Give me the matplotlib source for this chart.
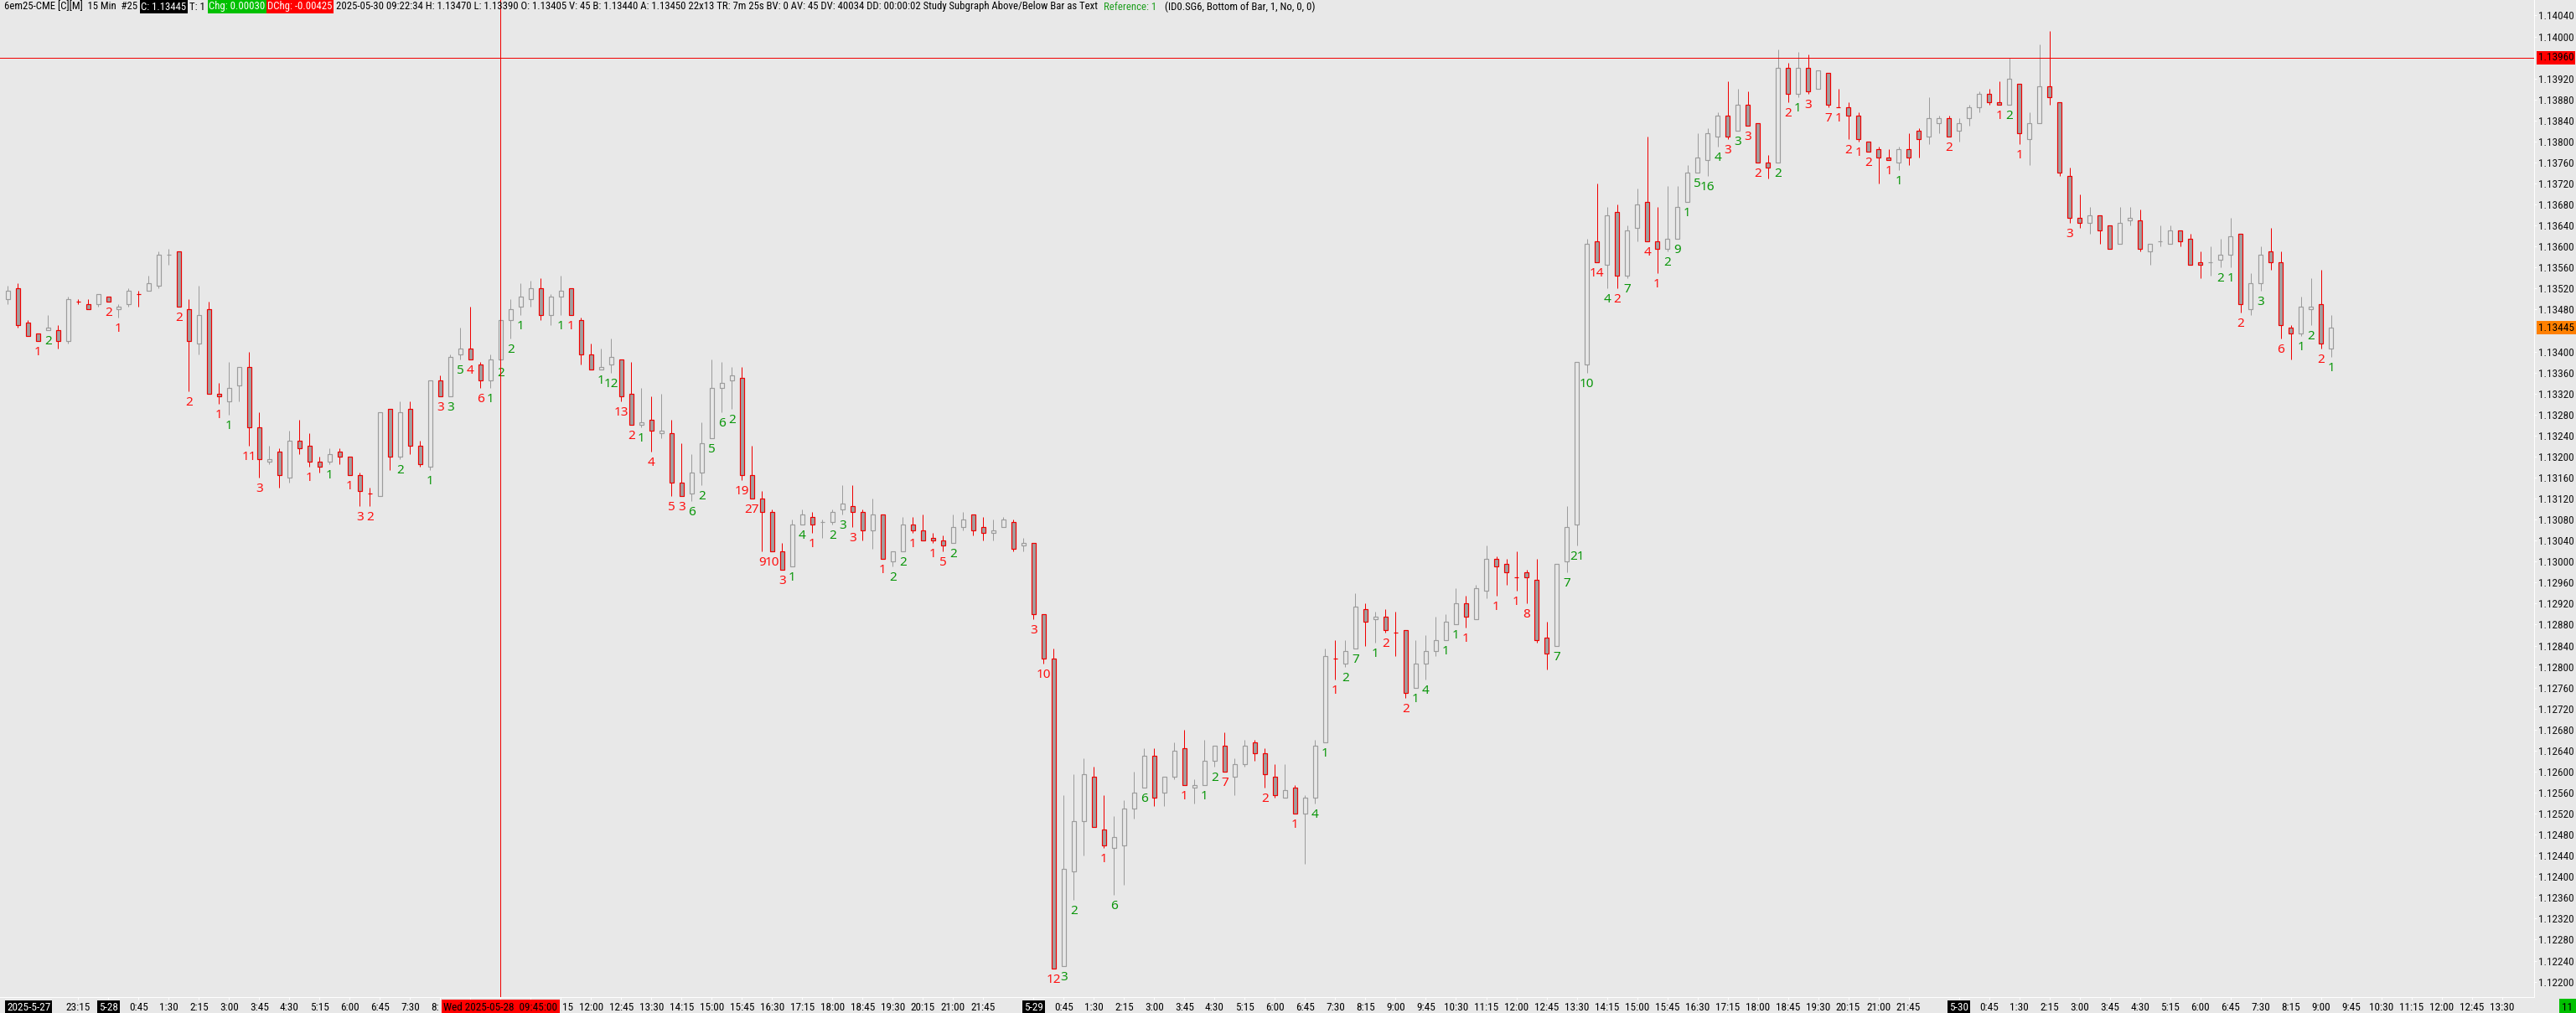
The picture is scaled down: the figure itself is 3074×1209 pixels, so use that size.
import numpy as np
import pandas as pd
import matplotlib
matplotlib.use("Agg")
import matplotlib.pyplot as plt
from matplotlib import font_manager as fm

# 6E 15 min bars, 2025-05-27 20:30 .. 2025-05-30 09:15
OPEN = [
    1.13500, 1.13520, 1.13455, 1.13435, 1.13440, 1.13440, 1.13420, 1.13495, 1.13490, 1.13490,
    1.13505, 1.13480, 1.13490, 1.13510, 1.13515, 1.13525, 1.13585, 1.13590, 1.13480, 1.13415,
    1.13480, 1.13320, 1.13305, 1.13335, 1.13370, 1.13255, 1.13190, 1.13210, 1.13160, 1.13230,
    1.13220, 1.13190, 1.13190, 1.13210, 1.13200, 1.13165, 1.13130, 1.13125, 1.13290, 1.13200,
    1.13290, 1.13220, 1.13180, 1.13345, 1.13315, 1.13395, 1.13405, 1.13375, 1.13345, 1.13385,
    1.13460, 1.13485, 1.13500, 1.13520, 1.13470, 1.13505, 1.13520, 1.13460, 1.13395, 1.13365,
    1.13375, 1.13385, 1.13320, 1.13260, 1.13270, 1.13245, 1.13245, 1.13150, 1.13130, 1.13170,
    1.13235, 1.13330, 1.13345, 1.13350, 1.13165, 1.13120, 1.13095, 1.13020, 1.12990, 1.13070,
    1.13085, 1.13075, 1.13075, 1.13100, 1.13105, 1.13095, 1.13060, 1.13090, 1.13000, 1.13020,
    1.13070, 1.13060, 1.13045, 1.13040, 1.13035, 1.13065, 1.13090, 1.13065, 1.13055, 1.13065,
    1.13075, 1.13030, 1.13035, 1.12900, 1.12815, 1.12230, 1.12410, 1.12505, 1.12590, 1.12490,
    1.12455, 1.12460, 1.12530, 1.12570, 1.12630, 1.12560, 1.12590, 1.12645, 1.12570, 1.12575,
    1.12620, 1.12650, 1.12590, 1.12615, 1.12655, 1.12635, 1.12590, 1.12550, 1.12570, 1.12520,
    1.12550, 1.12655, 1.12815, 1.12805, 1.12835, 1.12910, 1.12890, 1.12895, 1.12865, 1.12870,
    1.12760, 1.12805, 1.12830, 1.12850, 1.12880, 1.12920, 1.12890, 1.12945, 1.13005, 1.12995,
    1.12970, 1.12980, 1.12965, 1.12855, 1.12840, 1.13000, 1.13070, 1.13375, 1.13610, 1.13565,
    1.13665, 1.13545, 1.13635, 1.13685, 1.13610, 1.13595, 1.13615, 1.13685, 1.13740, 1.13765,
    1.13810, 1.13850, 1.13820, 1.13870, 1.13835, 1.13760, 1.13760, 1.13940, 1.13890, 1.13940,
    1.13900, 1.13930, 1.13865, 1.13865, 1.13850, 1.13800, 1.13785, 1.13770, 1.13760, 1.13785,
    1.13820, 1.13810, 1.13835, 1.13845, 1.13820, 1.13845, 1.13865, 1.13890, 1.13875, 1.13870,
    1.13910, 1.13805, 1.13835, 1.13905, 1.13875, 1.13735, 1.13655, 1.13645, 1.13660, 1.13640,
    1.13605, 1.13650, 1.13650, 1.13590, 1.13610, 1.13605, 1.13630, 1.13615, 1.13570, 1.13570,
    1.13575, 1.13585, 1.13625, 1.13480, 1.13530, 1.13590, 1.13570, 1.13445, 1.13435, 1.13480,
    1.13490, 1.13405,
]
HIGH = [
    1.13525, 1.13530, 1.13460, 1.13435, 1.13470, 1.13450, 1.13505, 1.13500, 1.13500, 1.13510,
    1.13505, 1.13490, 1.13520, 1.13515, 1.13545, 1.13590, 1.13595, 1.13590, 1.13500, 1.13525,
    1.13495, 1.13340, 1.13380, 1.13370, 1.13400, 1.13285, 1.13220, 1.13215, 1.13250, 1.13270,
    1.13245, 1.13200, 1.13215, 1.13215, 1.13200, 1.13170, 1.13140, 1.13285, 1.13290, 1.13305,
    1.13305, 1.13230, 1.13345, 1.13355, 1.13395, 1.13445, 1.13485, 1.13380, 1.13395, 1.13460,
    1.13500, 1.13530, 1.13535, 1.13540, 1.13510, 1.13545, 1.13520, 1.13465, 1.13415, 1.13405,
    1.13425, 1.13385, 1.13380, 1.13330, 1.13315, 1.13320, 1.13270, 1.13225, 1.13205, 1.13265,
    1.13385, 1.13380, 1.13370, 1.13370, 1.13220, 1.13135, 1.13100, 1.13035, 1.13080, 1.13100,
    1.13095, 1.13080, 1.13100, 1.13145, 1.13145, 1.13100, 1.13120, 1.13090, 1.13020, 1.13085,
    1.13085, 1.13090, 1.13055, 1.13050, 1.13090, 1.13095, 1.13090, 1.13085, 1.13080, 1.13085,
    1.13080, 1.13045, 1.13035, 1.12900, 1.12835, 1.12555, 1.12595, 1.12625, 1.12610, 1.12555,
    1.12515, 1.12545, 1.12600, 1.12645, 1.12645, 1.12590, 1.12655, 1.12680, 1.12585, 1.12660,
    1.12650, 1.12675, 1.12625, 1.12660, 1.12660, 1.12645, 1.12615, 1.12615, 1.12575, 1.12555,
    1.12660, 1.12835, 1.12850, 1.12850, 1.12940, 1.12920, 1.12905, 1.12910, 1.12905, 1.12870,
    1.12850, 1.12860, 1.12895, 1.12900, 1.12950, 1.12935, 1.12955, 1.13030, 1.13010, 1.13005,
    1.13020, 1.12985, 1.13005, 1.12885, 1.12995, 1.13105, 1.13380, 1.13615, 1.13720, 1.13675,
    1.13680, 1.13640, 1.13710, 1.13810, 1.13675, 1.13715, 1.13715, 1.13755, 1.13815, 1.13825,
    1.13855, 1.13915, 1.13900, 1.13895, 1.13835, 1.13775, 1.13975, 1.13950, 1.13970, 1.13965,
    1.13935, 1.13930, 1.13900, 1.13875, 1.13855, 1.13800, 1.13790, 1.13785, 1.13790, 1.13815,
    1.13825, 1.13885, 1.13850, 1.13850, 1.13845, 1.13870, 1.13895, 1.13900, 1.13915, 1.13960,
    1.13910, 1.13855, 1.13985, 1.14010, 1.13875, 1.13750, 1.13700, 1.13675, 1.13660, 1.13640,
    1.13675, 1.13675, 1.13670, 1.13605, 1.13640, 1.13640, 1.13630, 1.13625, 1.13590, 1.13600,
    1.13615, 1.13655, 1.13625, 1.13550, 1.13600, 1.13635, 1.13590, 1.13450, 1.13505, 1.13540,
    1.13555, 1.13470,
]
LOW = [
    1.13490, 1.13445, 1.13430, 1.13420, 1.13440, 1.13405, 1.13415, 1.13490, 1.13480, 1.13485,
    1.13495, 1.13465, 1.13485, 1.13485, 1.13515, 1.13520, 1.13565, 1.13485, 1.13325, 1.13395,
    1.13320, 1.13300, 1.13280, 1.13305, 1.13220, 1.13160, 1.13185, 1.13140, 1.13150, 1.13205,
    1.13180, 1.13170, 1.13185, 1.13185, 1.13165, 1.13105, 1.13105, 1.13125, 1.13175, 1.13195,
    1.13205, 1.13180, 1.13175, 1.13315, 1.13315, 1.13385, 1.13385, 1.13330, 1.13330, 1.13380,
    1.13425, 1.13470, 1.13485, 1.13460, 1.13450, 1.13470, 1.13470, 1.13375, 1.13365, 1.13365,
    1.13360, 1.13305, 1.13260, 1.13255, 1.13210, 1.13235, 1.13125, 1.13125, 1.13115, 1.13145,
    1.13235, 1.13285, 1.13290, 1.13155, 1.13120, 1.13020, 1.13020, 1.12985, 1.12990, 1.13070,
    1.13055, 1.13045, 1.13070, 1.13090, 1.13065, 1.13040, 1.13025, 1.13005, 1.12990, 1.13020,
    1.13055, 1.13040, 1.13035, 1.13020, 1.13035, 1.13060, 1.13050, 1.13040, 1.13040, 1.13065,
    1.13020, 1.13020, 1.12890, 1.12805, 1.12225, 1.12230, 1.12355, 1.12440, 1.12495, 1.12455,
    1.12365, 1.12385, 1.12510, 1.12570, 1.12535, 1.12535, 1.12585, 1.12575, 1.12540, 1.12575,
    1.12610, 1.12600, 1.12555, 1.12610, 1.12620, 1.12570, 1.12550, 1.12550, 1.12520, 1.12425,
    1.12540, 1.12655, 1.12775, 1.12800, 1.12835, 1.12840, 1.12845, 1.12865, 1.12820, 1.12740,
    1.12760, 1.12775, 1.12820, 1.12850, 1.12880, 1.12875, 1.12890, 1.12930, 1.12935, 1.12955,
    1.12945, 1.12920, 1.12845, 1.12795, 1.12840, 1.12980, 1.13030, 1.13360, 1.13570, 1.13520,
    1.13520, 1.13540, 1.13610, 1.13610, 1.13550, 1.13590, 1.13615, 1.13685, 1.13740, 1.13735,
    1.13790, 1.13805, 1.13820, 1.13830, 1.13760, 1.13730, 1.13760, 1.13875, 1.13885, 1.13890,
    1.13900, 1.13865, 1.13865, 1.13805, 1.13800, 1.13780, 1.13720, 1.13765, 1.13745, 1.13755,
    1.13770, 1.13795, 1.13815, 1.13810, 1.13800, 1.13830, 1.13855, 1.13870, 1.13870, 1.13870,
    1.13795, 1.13755, 1.13835, 1.13870, 1.13735, 1.13645, 1.13635, 1.13625, 1.13605, 1.13595,
    1.13605, 1.13640, 1.13590, 1.13565, 1.13600, 1.13605, 1.13600, 1.13565, 1.13540, 1.13545,
    1.13560, 1.13560, 1.13475, 1.13470, 1.13515, 1.13555, 1.13425, 1.13385, 1.13430, 1.13450,
    1.13405, 1.13390,
]
CLOSE = [
    1.13515, 1.13450, 1.13430, 1.13420, 1.13445, 1.13420, 1.13500, 1.13495, 1.13480, 1.13510,
    1.13495, 1.13485, 1.13515, 1.13510, 1.13530, 1.13585, 1.13585, 1.13485, 1.13420, 1.13470,
    1.13320, 1.13315, 1.13330, 1.13370, 1.13255, 1.13195, 1.13195, 1.13165, 1.13230, 1.13215,
    1.13190, 1.13180, 1.13205, 1.13200, 1.13165, 1.13135, 1.13130, 1.13285, 1.13200, 1.13285,
    1.13220, 1.13185, 1.13345, 1.13315, 1.13390, 1.13405, 1.13385, 1.13345, 1.13385, 1.13460,
    1.13480, 1.13505, 1.13520, 1.13470, 1.13505, 1.13515, 1.13470, 1.13395, 1.13365, 1.13370,
    1.13390, 1.13315, 1.13260, 1.13265, 1.13250, 1.13250, 1.13150, 1.13125, 1.13170, 1.13225,
    1.13330, 1.13340, 1.13355, 1.13165, 1.13120, 1.13095, 1.13020, 1.12985, 1.13070, 1.13090,
    1.13070, 1.13075, 1.13095, 1.13110, 1.13095, 1.13060, 1.13090, 1.13005, 1.13020, 1.13070,
    1.13060, 1.13040, 1.13040, 1.13030, 1.13065, 1.13080, 1.13060, 1.13055, 1.13060, 1.13080,
    1.13025, 1.13035, 1.12900, 1.12815, 1.12225, 1.12415, 1.12505, 1.12595, 1.12495, 1.12460,
    1.12475, 1.12530, 1.12560, 1.12630, 1.12550, 1.12590, 1.12640, 1.12575, 1.12575, 1.12620,
    1.12650, 1.12600, 1.12615, 1.12650, 1.12635, 1.12595, 1.12555, 1.12565, 1.12520, 1.12550,
    1.12650, 1.12820, 1.12815, 1.12830, 1.12915, 1.12885, 1.12895, 1.12870, 1.12865, 1.12750,
    1.12805, 1.12830, 1.12850, 1.12885, 1.12920, 1.12895, 1.12950, 1.13005, 1.12990, 1.12980,
    1.12970, 1.12970, 1.12850, 1.12825, 1.12995, 1.13065, 1.13380, 1.13605, 1.13570, 1.13660,
    1.13545, 1.13630, 1.13680, 1.13610, 1.13595, 1.13615, 1.13675, 1.13740, 1.13770, 1.13815,
    1.13850, 1.13810, 1.13870, 1.13830, 1.13760, 1.13750, 1.13940, 1.13890, 1.13940, 1.13895,
    1.13935, 1.13870, 1.13865, 1.13850, 1.13805, 1.13780, 1.13770, 1.13765, 1.13785, 1.13770,
    1.13805, 1.13845, 1.13845, 1.13810, 1.13835, 1.13865, 1.13890, 1.13875, 1.13870, 1.13920,
    1.13815, 1.13835, 1.13905, 1.13885, 1.13740, 1.13655, 1.13645, 1.13660, 1.13630, 1.13595,
    1.13645, 1.13655, 1.13595, 1.13605, 1.13610, 1.13630, 1.13610, 1.13565, 1.13565, 1.13570,
    1.13585, 1.13620, 1.13490, 1.13530, 1.13585, 1.13570, 1.13450, 1.13435, 1.13485, 1.13485,
    1.13415, 1.13445,
]

# study subgraph text below bars: bar index -> (text, colour key)
LABELS = {
    3: ("1", "r"), 4: ("2", "g"), 10: ("2", "r"), 11: ("1", "r"), 17: ("2", "r"), 18: ("2", "r"),
    21: ("1", "r"), 22: ("1", "g"), 24: ("11", "r"), 25: ("3", "r"), 30: ("1", "r"), 32: ("1", "g"),
    34: ("1", "r"), 35: ("3", "r"), 36: ("2", "r"), 39: ("2", "g"), 42: ("1", "g"), 43: ("3", "r"),
    44: ("3", "g"), 45: ("5", "g"), 46: ("4", "r"), 47: ("6", "r"), 48: ("1", "g"), 49: ("2", "g"),
    50: ("2", "g"), 51: ("1", "g"), 55: ("1", "g"), 56: ("1", "r"),
    59: ("1", "g"), 60: ("12", "g"), 61: ("13", "r"), 62: ("2", "r"), 63: ("1", "g"), 64: ("4", "r"),
    66: ("5", "r"), 67: ("3", "r"), 68: ("6", "g"), 69: ("2", "g"), 70: ("5", "g"), 71: ("6", "g"),
    72: ("2", "g"), 73: ("19", "r"), 74: ("27", "r"), 75: ("9", "r"), 76: ("10", "r"), 77: ("3", "r"),
    78: ("1", "g"), 79: ("4", "g"), 80: ("1", "r"), 82: ("2", "g"), 83: ("3", "g"), 84: ("3", "r"),
    87: ("1", "r"), 88: ("2", "g"), 89: ("2", "g"), 90: ("1", "r"), 92: ("1", "r"), 93: ("5", "r"),
    94: ("2", "g"),
    102: ("3", "r"), 103: ("10", "r"), 104: ("12", "r"), 105: ("3", "g"), 106: ("2", "g"),
    109: ("1", "r"), 110: ("6", "g"), 113: ("6", "g"), 117: ("1", "r"), 119: ("1", "g"),
    120: ("2", "g"), 121: ("7", "r"), 125: ("2", "r"), 128: ("1", "r"), 130: ("4", "g"),
    131: ("1", "g"), 132: ("1", "r"), 133: ("2", "g"), 134: ("7", "g"), 136: ("1", "g"),
    137: ("2", "r"), 139: ("2", "r"), 140: ("1", "g"), 141: ("4", "g"), 143: ("1", "g"),
    144: ("1", "g"), 145: ("1", "r"), 148: ("1", "r"), 150: ("1", "r"), 151: ("8", "r"),
    154: ("7", "g"), 155: ("7", "g"), 156: ("21", "g"), 157: ("10", "g"), 158: ("14", "r"),
    159: ("4", "g"), 160: ("2", "r"), 161: ("7", "g"), 163: ("4", "r"), 164: ("1", "r"),
    165: ("2", "g"), 166: ("9", "g"), 167: ("1", "g"), 168: ("5", "g"), 169: ("16", "g"),
    170: ("4", "g"), 171: ("3", "r"), 172: ("3", "g"), 173: ("3", "r"), 174: ("2", "r"),
    176: ("2", "g"), 177: ("2", "r"), 178: ("1", "g"), 179: ("3", "r"), 181: ("7", "r"),
    182: ("1", "r"), 183: ("2", "r"), 184: ("1", "r"), 185: ("2", "r"), 187: ("1", "r"),
    188: ("1", "g"), 193: ("2", "r"), 198: ("1", "r"), 199: ("2", "g"), 200: ("1", "r"),
    205: ("3", "r"), 220: ("2", "g"), 221: ("1", "g"), 222: ("2", "r"), 224: ("3", "g"),
    226: ("6", "r"), 228: ("1", "g"), 229: ("2", "g"), 230: ("2", "r"), 231: ("1", "g"),
}

BAR_START = "2025-05-27 20:30"
BREAK_HOUR = 22          # no bars 22:00 - 22:45
N_SLOTS = 249            # bar slots shown on the time scale
PRICE_TICKS = np.round(np.arange(1.12200, 1.140401, 0.0004), 5)
LAST_PRICE = 1.13445
CURSOR_PRICE = 1.13960
CURSOR_BAR = 49
CURSOR_TEXT = "Wed 2025-05-28  09:45:00"
FIRST_DATE = "2025-5-27"
TIMER_TEXT = "11"

# header pieces: text, gap after previous piece (px), box colour, text colour
HEADER = [
    ("6em25-CME [C][M]  15 Min  #25", 5, None, "#000000"),
    ("C: 1.13445", 4, "#000000", "#ffffff"),
    ("T: 1", 4, None, "#000000"),
    ("Chg: 0.00030", 4, "#00c000", "#ffffff"),
    ("DChg: -0.00425", 3, "#ff0000", "#ffffff"),
    ("2025-05-30 09:22:34 H: 1.13470 L: 1.13390 O: 1.13405 V: 45 B: 1.13440 A: 1.13450 22x13 "
     "TR: 7m 25s BV: 0 AV: 45 DV: 40034 DD: 00:00:02 Study Subgraph Above/Below Bar as Text",
     4, None, "#000000"),
    ("Reference: 1", 7, None, "#1e9e1e"),
    ("(ID0.SG6, Bottom of Bar, 1, No, 0, 0)", 10, None, "#000000"),
]
HEADER_END = 1580

names = {f.name for f in fm.fontManager.ttflist}


def pick(*cands):
    for c in cands:
        if c in names:
            return c
    return "DejaVu Sans"


NARROW = pick("Liberation Sans Narrow", "Roboto Condensed", "Liberation Sans")
DIGITS = pick("Noto Sans", "Open Sans", "DejaVu Sans")
plt.rcParams["font.family"] = [NARROW, "DejaVu Sans"]

BG = "#e8e8e8"
GRAY = "#9c9c9c"
FILL = "#a0a0a0"
RED = "#f00000"
LABEL_COLORS = {"r": "#ff1010", "g": "#0a960a"}
PX = 0.72  # one pixel in points at 100 dpi

W, H = 3074, 1209
fig = plt.figure(figsize=(W / 100, H / 100), dpi=100, facecolor=BG)
ax = fig.add_axes([0, 19 / H, 3024 / W, 1190 / H], facecolor=BG)
ax.set_xlim(-0.78, 251.2)
ax.set_ylim(1.121706, 1.140695)

o, h, l, c = (np.array(a) for a in (OPEN, HIGH, LOW, CLOSE))
assert len(o) == len(h) == len(l) == len(c)
x = np.arange(len(o))
prev = np.r_[c[0], c[:-1]]
up = (c > o) | ((c == o) & (c >= prev))
dn = ~up

ax.vlines(x[up], l[up], h[up], color=GRAY, lw=PX, zorder=2)
ax.vlines(x[dn], l[dn], h[dn], color=RED, lw=PX, zorder=2)
ax.bar(x[up], c[up] - o[up], bottom=o[up], width=0.36, facecolor=BG,
       edgecolor=GRAY, linewidth=1.2 * PX, zorder=3)
ax.bar(x[dn], o[dn] - c[dn], bottom=c[dn], width=0.36, facecolor=FILL,
       edgecolor=RED, linewidth=1.2 * PX, zorder=3)

for i, (txt, col) in LABELS.items():
    ax.annotate(txt, (i, l[i]), xytext=(0, -17), textcoords="offset pixels",
                ha="center", va="baseline", color=LABEL_COLORS[col],
                fontsize=11, family=DIGITS, zorder=4)

# cursor cross
ax.axhline(CURSOR_PRICE, color=RED, lw=PX, zorder=4)
ax.axvline(CURSOR_BAR, color=RED, lw=PX, zorder=4)

for s in ("top", "left"):
    ax.spines[s].set_visible(False)
for s in ("right", "bottom"):
    ax.spines[s].set_color("white")
    ax.spines[s].set_linewidth(PX)

# price scale
yt = [t for t in PRICE_TICKS if abs(t - LAST_PRICE) > 1e-4 and abs(t - CURSOR_PRICE) > 1e-4]
ax.set_yticks(yt, labels=[f"{t:.5f}" for t in yt])
ax.yaxis.tick_right()
ax.tick_params(axis="y", length=3 * PX, width=PX, color="white", pad=2 * PX,
               labelsize=9.5, labelcolor="#141414")
for price, fc in ((CURSOR_PRICE, "#ff0000"), (LAST_PRICE, "#ff8000")):
    ax.annotate(f"{price:.5f}", xy=(1, price), xycoords=("axes fraction", "data"),
                xytext=(5, 0), textcoords="offset pixels", ha="left", va="center",
                fontsize=9.5, color="#000000", annotation_clip=False, zorder=10,
                bbox=dict(boxstyle="square,pad=0.12", fc=fc, ec="none"))

# time scale
times = []
t = pd.Timestamp(BAR_START)
while len(times) < N_SLOTS:
    if t.hour != BREAK_HOUR:
        times.append(t)
    t += pd.Timedelta(minutes=15)
day_starts = [i for i, tt in enumerate(times) if tt.hour == 0 and tt.minute == 0]
time_ticks = []
for i in range(6, N_SLOTS):
    if i in day_starts:
        continue
    ref = max([d for d in day_starts if d <= i], default=day_starts[0])
    nxt = min([d for d in day_starts if d > i], default=N_SLOTS + 10)
    if (i - ref) % 3 == 0 and nxt - i >= 3:
        time_ticks.append(i)

ax.set_xticks(time_ticks + day_starts, labels=[])
ax.tick_params(axis="x", length=3 * PX, width=PX, color="white")
tick_texts = []
for i in time_ticks:
    tt = times[i]
    tick_texts.append((i, ax.annotate(
        f"{tt.hour}:{tt.minute:02d}", xy=(i, 0), xycoords=("data", "axes fraction"),
        xytext=(0, -12), textcoords="offset pixels", ha="center", va="center",
        fontsize=9.5, color="#000000", annotation_clip=False, zorder=5)))
for i in day_starts:
    tt = times[i]
    ax.annotate(f"{tt.month}-{tt.day}", xy=(i, 0), xycoords=("data", "axes fraction"),
                xytext=(0, -12), textcoords="offset pixels", ha="center", va="center",
                fontsize=9.5, color="white", annotation_clip=False, zorder=6,
                bbox=dict(boxstyle="square,pad=0.15", fc="black", ec="none"))
ax.annotate(FIRST_DATE, xy=(0, 0), xycoords="axes fraction", xytext=(8, -12),
            textcoords="offset pixels", ha="left", va="center", fontsize=9.5,
            color="white", annotation_clip=False, zorder=6,
            bbox=dict(boxstyle="square,pad=0.15", fc="black", ec="none"))
cursor_box = ax.annotate(CURSOR_TEXT, xy=(CURSOR_BAR, 0), xycoords=("data", "axes fraction"),
                         xytext=(0, -12), textcoords="offset pixels", ha="center", va="center",
                         fontsize=9.5, color="#000000", annotation_clip=False, zorder=10,
                         bbox=dict(boxstyle="square,pad=0.2", fc="#ff0000", ec="none"))
fig.text(3064 / W, 1 - 1202 / H, TIMER_TEXT, ha="center", va="center", fontsize=9.5,
         color="#000000", bbox=dict(boxstyle="square,pad=0.25", fc="#00c000", ec="none"))

# header line: pieces laid out one after another, size fitted to the reference width
hdr = []
for txt, gap, fc, col in HEADER:
    kw = {}
    if fc:
        kw["bbox"] = dict(boxstyle="square,pad=0.1", fc=fc, ec="none")
    hdr.append(fig.text(0, 1 - 8 / H, txt, ha="left", va="center",
                        fontsize=9, color=col, **kw))
r = fig.canvas.get_renderer()
widths = [tx.get_window_extent(r).width for tx in hdr]
gaps = sum(g for _, g, _, _ in HEADER)
fs = 9 * (HEADER_END - gaps) / sum(widths)
for tx in hdr:
    tx.set_fontsize(fs)
xpos = 0
for tx, (_, gap, _, _) in zip(hdr, HEADER):
    xpos += gap
    tx.set_x(xpos / W)
    xpos += tx.get_window_extent(r).width

# time labels under the cursor date box: hidden ones go, cut ones keep their visible part
fig.canvas.draw()
r = fig.canvas.get_renderer()
cb = cursor_box.get_bbox_patch().get_window_extent(r)
for i, tl in tick_texts:
    e = tl.get_window_extent(r)
    if e.x1 <= cb.x0 or e.x0 >= cb.x1:
        continue
    if e.x0 >= cb.x0 and e.x1 <= cb.x1:
        tl.remove()
        continue
    xi = ax.transData.transform((i, 0))[0]
    s = tl.get_text()
    if e.x0 < cb.x0:
        tl.set_ha("left")
        tl.xyann = (e.x0 - xi, -12)
        while s and tl.get_window_extent(r).x1 > cb.x0:
            s = s[:-1]
            tl.set_text(s)
    else:
        tl.set_ha("right")
        tl.xyann = (e.x1 - xi, -12)
        while s and tl.get_window_extent(r).x0 < cb.x1:
            s = s[1:]
            tl.set_text(s)

fig.savefig("out.png", dpi=100, facecolor=BG)
